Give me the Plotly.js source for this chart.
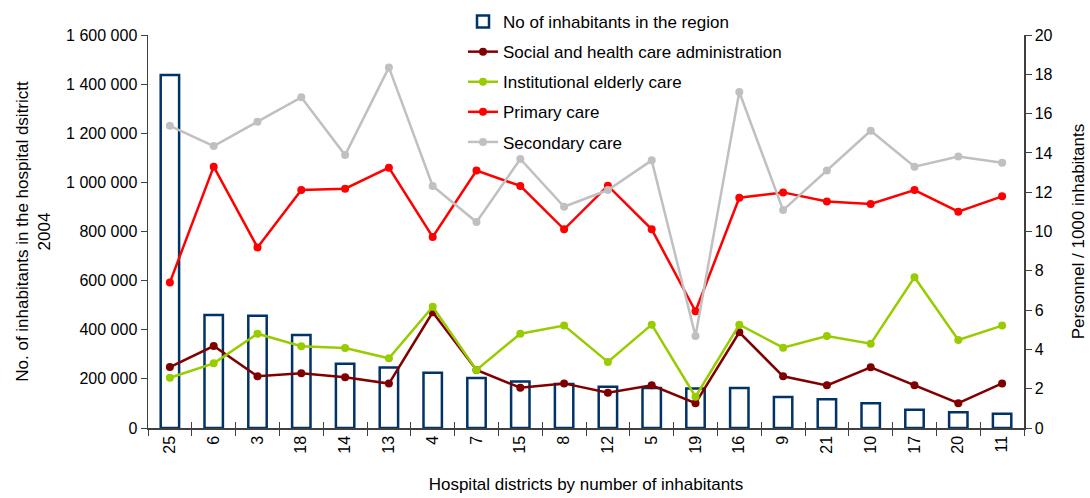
<!DOCTYPE html>
<html>
<head>
<meta charset="utf-8">
<script src="https://cdn.plot.ly/plotly-3.0.1.min.js"></script>
<style>html,body{margin:0;padding:0;background:#fff;}#chart{width:1090px;height:498px;}</style>
</head>
<body>
<div id="chart"></div>
<script>
const districts = ["25","6","3","18","14","13","4","7","15","8","12","5","19","16","9","21","10","17","20","11"];
const inhabitants = [1437000,460000,457000,379000,262000,246000,225000,204000,189000,179000,168000,163000,161000,163000,126000,117000,100500,74600,64000,58000];
const socialAdmin = [3.10,4.17,2.63,2.78,2.58,2.26,5.89,2.95,2.05,2.27,1.80,2.17,1.26,4.87,2.63,2.17,3.09,2.17,1.26,2.27];
const elderlyCare = [2.56,3.29,4.80,4.16,4.07,3.55,6.17,2.95,4.80,5.21,3.36,5.26,1.59,5.26,4.09,4.68,4.29,7.67,4.48,5.21];
const primaryCare = [7.41,13.30,9.19,12.11,12.18,13.25,9.72,13.10,12.32,10.11,12.33,10.11,5.94,11.72,11.99,11.53,11.40,12.11,11.01,11.79];
const secondaryCare = [15.38,14.35,15.59,16.83,13.89,18.35,12.32,10.48,13.69,11.26,12.11,13.62,4.68,17.10,11.09,13.11,15.13,13.30,13.82,13.50];

const FONT = "'Liberation Sans', Arial, sans-serif";
const lineTrace = (name, y, color) => ({
  type: 'scatter', mode: 'lines+markers', name: name, x: districts, y: y, yaxis: 'y2',
  line: {color: color, width: 2.5}, marker: {color: color, size: 8}, legendgroup: name
});

const data = [
  {type: 'bar', name: 'No of inhabitants in the region', x: districts, y: inhabitants, yaxis: 'y',
   width: 0.42, marker: {color: '#ffffff', line: {color: '#003366', width: 2.5}}, legendgroup: 'bar'},
  lineTrace('Social and health care administration', socialAdmin, '#800000'),
  lineTrace('Institutional elderly care', elderlyCare, '#99cc00'),
  lineTrace('Primary care', primaryCare, '#ff0000'),
  lineTrace('Secondary care', secondaryCare, '#c0c0c0'),
  {type: 'scatter', mode: 'markers', x: districts, y: districts.map(() => null), xaxis: 'x2', yaxis: 'y',
   showlegend: false, hoverinfo: 'skip', marker: {opacity: 0}}
];

const layout = {
  width: 1090, height: 498,
  margin: {l: 148, r: 66, t: 35, b: 70, autoexpand: false},
  paper_bgcolor: '#ffffff', plot_bgcolor: 'rgba(0,0,0,0)',
  separators: ', ',
  font: {family: FONT, size: 16, color: '#000000'},
  showlegend: true,
  legend: {x: (463 - 148) / 876, y: 1 + (35 - 4) / 393, xanchor: 'left', yanchor: 'top',
           bgcolor: 'rgba(0,0,0,0)', font: {family: FONT, size: 17}, traceorder: 'grouped', tracegroupgap: 5},
  xaxis: {type: 'category', categoryorder: 'array', categoryarray: districts, range: [-0.5, 19.5],
          tickson: 'boundaries', ticks: 'outside', ticklen: 6, tickcolor: '#404040',
          showline: true, linecolor: '#404040', linewidth: 1.5, tickangle: -90,
          showgrid: false, zeroline: false, tickfont: {family: FONT, size: 16},
          title: {text: 'Hospital districts by number of inhabitants', font: {family: FONT, size: 17}, standoff: 25}},
  xaxis2: {type: 'category', categoryorder: 'array', categoryarray: districts, range: [-0.5, 19.5],
           overlaying: 'x', tickson: 'boundaries', ticks: 'inside', ticklen: 6, tickcolor: '#404040',
           showticklabels: false, showline: false, showgrid: false, zeroline: false},
  yaxis: {range: [0, 1600000], dtick: 200000, tickformat: ',d', ticks: 'outside', ticklen: 6,
          tickcolor: '#404040', showline: true, linecolor: '#404040', linewidth: 1.5,
          showgrid: false, zeroline: false, tickfont: {family: FONT, size: 16},
          title: {text: 'No. of inhabitants in the hospital dsitrictt<br>2004', font: {family: FONT, size: 17}, standoff: 11}},
  yaxis2: {range: [0, 20], dtick: 2, overlaying: 'y', side: 'right', ticks: 'outside', ticklen: 6,
           tickcolor: '#404040', showline: true, linecolor: '#404040', linewidth: 1.5,
           showgrid: false, zeroline: false, tickfont: {family: FONT, size: 16},
           title: {text: 'Personnel / 1000 inhabitants', font: {family: FONT, size: 17}, standoff: 20}},
  yaxis3: {range: [0, 20], dtick: 2, overlaying: 'y', side: 'right', ticks: 'inside', ticklen: 6,
           tickcolor: '#404040', showticklabels: false, showline: false, showgrid: false, zeroline: false}
};

Plotly.newPlot('chart', data, layout, {displayModeBar: false, staticPlot: true});
</script>
</body>
</html>
